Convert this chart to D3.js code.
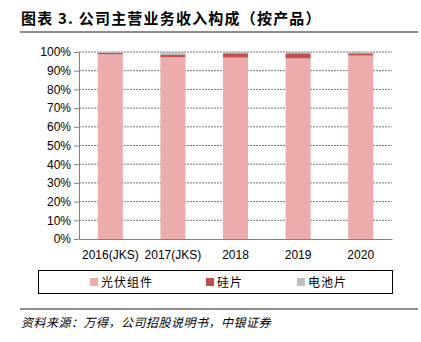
<!DOCTYPE html>
<html><head><meta charset="utf-8">
<script src="https://cdn.jsdelivr.net/npm/d3@7/dist/d3.min.js"></script>
<style>body{margin:0;background:#fff}svg{display:block}</style>
</head><body>
<script>
const categories = ["2016(JKS)", "2017(JKS)", "2018", "2019", "2020"];
const seriesNames = ["光伏组件", "硅片", "电池片"];
const modules = [98.8, 97.2, 97.0, 96.6, 98.1];
const wafers = [0.7, 1.4, 2.3, 2.7, 1.2];
const cells = [0.5, 1.4, 0.7, 0.7, 0.7];
const yTicks = [0, 10, 20, 30, 40, 50, 60, 70, 80, 90, 100];
const colors = ["#ECACAC", "#C0504D", "#BFBFBF"];

const W = 421, H = 342;
const svg = d3.select("body").append("svg").attr("width", W).attr("height", H);
const cjk = "'Noto Sans CJK SC', sans-serif";
const lat = "'Liberation Sans', Arial, sans-serif";

// Title
svg.append("text").attr("x", 21).attr("y", 24)
  .attr("font-family", cjk).attr("font-weight", "bold").attr("font-size", 15)
  .attr("letter-spacing", 1.2)
  .attr("fill", "#000").text("图表 3. 公司主营业务收入构成（按产品）");
svg.append("line").attr("x1", 20).attr("x2", 418).attr("y1", 32).attr("y2", 32)
  .attr("stroke", "#8c8c8c").attr("stroke-width", 2);

const x = d3.scaleBand().domain(categories).range([79, 392]).paddingInner(0.6).paddingOuter(0.3);
const y = d3.scaleLinear().domain([0, 100]).range([239, 52]);

// grid
svg.append("g").selectAll("line").data(yTicks.filter(d => d > 0)).join("line")
  .attr("x1", 79).attr("x2", 392).attr("y1", d => y(d)).attr("y2", d => y(d))
  .attr("stroke", "#777").attr("stroke-width", 1).attr("stroke-dasharray", "2,1");

// stacked bars
const rows = categories.map((c, i) => ({cat: c, "光伏组件": modules[i], "硅片": wafers[i], "电池片": cells[i]}));
const stack = d3.stack().keys(seriesNames)(rows);
svg.append("g").selectAll("g").data(stack).join("g").attr("fill", (d, i) => colors[i])
  .selectAll("rect").data(d => d).join("rect")
  .attr("x", d => x(d.data.cat)).attr("width", x.bandwidth())
  .attr("y", d => y(d[1])).attr("height", d => y(d[0]) - y(d[1]));

// y axis
const yAxis = d3.axisLeft(y).tickValues(yTicks).tickFormat(d => d + "%").tickSize(5).tickSizeOuter(0);
const ga = svg.append("g").attr("transform", "translate(79,0)").call(yAxis);
ga.select(".domain").attr("stroke", "#808080");
ga.selectAll(".tick line").attr("stroke", "#808080");
ga.selectAll("text").attr("font-family", lat).attr("font-size", 12).attr("fill", "#000").attr("x", -8);

// x axis
const xAxis = d3.axisBottom(x).tickSize(0).tickSizeOuter(0);
const gx = svg.append("g").attr("transform", "translate(0,239)").call(xAxis);
gx.select(".domain").attr("stroke", "#808080");
gx.selectAll("text").attr("font-family", lat).attr("font-size", 12).attr("fill", "#000").attr("dy", "1.45em");

// legend
svg.append("rect").attr("x", 38.5).attr("y", 270.5).attr("width", 354).attr("height", 23)
  .attr("fill", "none").attr("stroke", "#000").attr("stroke-width", 1);
const legX = [90, 206, 297];
const lg = svg.append("g").selectAll("g").data(seriesNames).join("g")
  .attr("transform", (d, i) => `translate(${legX[i]},278)`);
lg.append("rect").attr("width", 8).attr("height", 8).attr("fill", (d, i) => colors[i]);
lg.append("text").attr("x", 11).attr("y", 8.5).attr("font-family", cjk).attr("font-size", 12)
  .attr("letter-spacing", 1).attr("fill", "#000").text(d => d);

// footer
svg.append("line").attr("x1", 20).attr("x2", 418).attr("y1", 309).attr("y2", 309)
  .attr("stroke", "#8c8c8c").attr("stroke-width", 2);
svg.append("text").attr("x", 21).attr("y", 327)
  .attr("font-family", cjk).attr("font-style", "italic").attr("font-size", 12)
  .attr("letter-spacing", 0.5)
  .attr("fill", "#000").text("资料来源：万得，公司招股说明书，中银证券");
</script>
</body></html>
